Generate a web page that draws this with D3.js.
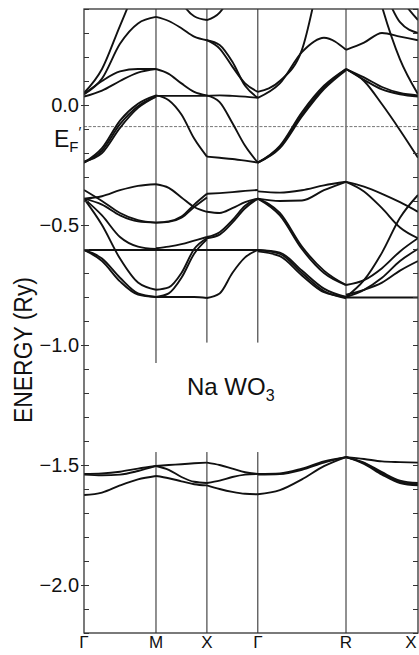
<!DOCTYPE html>
<html><head><meta charset="utf-8">
<script src="https://cdn.jsdelivr.net/npm/d3@7"></script>
<style>
html,body{margin:0;padding:0;background:#fff;}
svg{display:block;}
text{font-family:"Liberation Sans",Arial,sans-serif;fill:#111;}
</style></head><body>
<svg id="chart" width="419" height="655"></svg>
<script>
// ---- data ----
const kLabels = ["Γ","M","X","Γ","R","X"];
const kPoints = [0, 1.414, 2.414, 3.414, 5.146, 6.560];   // path length (π/a)
const yTickValues = [0.0, -0.5, -1.0, -1.5, -2.0];
const yTickLabels = ["0.0", "−0.5", "−1.0", "−1.5", "−2.0"];
const fermiEnergy = -0.09;
const sampleT = [0, 0.25, 0.5, 0.75, 1];

// energies (Ry) at sampleT along each segment
const bandsGM = [
  [-0.24, -0.18, -0.065, 0.005, 0.04],
  [-0.24, -0.19, -0.08, -0.005, 0.035],
  [-0.235, -0.20, -0.095, -0.012, 0.035],
  [0.05, 0.15, 0.33, 0.5, 0.6],
  [0.045, 0.11, 0.255, 0.34, 0.367],
  [0.045, 0.10, 0.14, 0.15, 0.15],
  [0.035, 0.06, 0.10, 0.135, 0.15],
  [-0.39, -0.38, -0.355, -0.337, -0.33],
  [-0.354, -0.40, -0.45, -0.48, -0.49],
  [-0.39, -0.415, -0.46, -0.485, -0.49],
  [-0.39, -0.46, -0.55, -0.59, -0.6],
  [-0.39, -0.50, -0.64, -0.74, -0.77],
  [-0.604, -0.604, -0.604, -0.604, -0.604],
  [-0.604, -0.64, -0.72, -0.785, -0.80],
  [-0.604, -0.65, -0.735, -0.79, -0.80],
  [-1.537, -1.535, -1.528, -1.515, -1.504],
  [-1.54, -1.543, -1.54, -1.525, -1.504],
  [-1.625, -1.615, -1.585, -1.56, -1.546]
];
const bandsMX = [
  [0.038, 0.038, 0.038, 0.038, 0.038],
  [0.04, 0.02, -0.04, -0.14, -0.215],
  [0.15, 0.13, 0.09, 0.055, 0.04],
  [0.367, 0.35, 0.32, 0.285, 0.27],
  [0.7, 0.55, 0.43, 0.37, 0.354],
  [-0.33, -0.345, -0.385, -0.425, -0.445],
  [-0.49, -0.485, -0.465, -0.415, -0.37],
  [-0.49, -0.487, -0.47, -0.425, -0.385],
  [-0.597, -0.59, -0.58, -0.565, -0.55],
  [-0.604, -0.604, -0.604, -0.604, -0.604],
  [-0.77, -0.76, -0.70, -0.60, -0.555],
  [-0.80, -0.785, -0.72, -0.62, -0.56],
  [-0.80, -0.80, -0.80, -0.80, -0.804],
  [-1.504, -1.50, -1.497, -1.493, -1.49],
  [-1.504, -1.52, -1.55, -1.57, -1.575],
  [-1.546, -1.555, -1.568, -1.58, -1.585]
];
const bandsXG = [
  [-0.215, -0.22, -0.225, -0.232, -0.24],
  [0.04, 0.012, -0.075, -0.17, -0.24],
  [0.038, 0.04, 0.038, 0.035, 0.03],
  [0.27, 0.235, 0.16, 0.09, 0.055],
  [0.27, 0.25, 0.18, 0.08, 0.03],
  [0.354, 0.385, 0.47, 0.6, 0.7],
  [-0.37, -0.367, -0.363, -0.358, -0.354],
  [-0.445, -0.45, -0.43, -0.405, -0.39],
  [-0.55, -0.53, -0.48, -0.42, -0.39],
  [-0.555, -0.54, -0.49, -0.43, -0.39],
  [-0.604, -0.604, -0.604, -0.604, -0.604],
  [-0.804, -0.785, -0.70, -0.635, -0.604],
  [-1.49, -1.50, -1.515, -1.53, -1.537],
  [-1.575, -1.565, -1.55, -1.54, -1.537],
  [-1.585, -1.60, -1.612, -1.62, -1.622]
];
const bandsGR = [
  [-0.24, -0.17, -0.03, 0.08, 0.15],
  [-0.24, -0.175, -0.04, 0.073, 0.15],
  [-0.24, -0.18, -0.048, 0.066, 0.145],
  [0.055, 0.10, 0.23, 0.6, 0.8],
  [0.03, 0.09, 0.22, 0.28, 0.23],
  [-0.36, -0.365, -0.355, -0.335, -0.32],
  [-0.39, -0.40, -0.398, -0.355, -0.32],
  [-0.39, -0.45, -0.59, -0.69, -0.75],
  [-0.39, -0.46, -0.60, -0.70, -0.75],
  [-0.604, -0.615, -0.69, -0.765, -0.80],
  [-0.604, -0.62, -0.70, -0.775, -0.805],
  [-0.61, -0.63, -0.71, -0.78, -0.80],
  [-1.537, -1.535, -1.515, -1.485, -1.467],
  [-1.54, -1.538, -1.52, -1.49, -1.467],
  [-1.622, -1.605, -1.56, -1.505, -1.467]
];
const bandsRX = [
  [0.15, 0.115, 0.075, 0.05, 0.04],
  [0.15, 0.105, 0.065, 0.045, 0.035],
  [0.15, 0.10, 0.003, -0.105, -0.22],
  [0.23, 0.26, 0.30, 0.285, 0.27],
  [0.9, 0.7, 0.41, 0.19, 0.045],
  [0.9, 0.7, 0.5, 0.345, 0.30],
  [0.9, 0.8, 0.6, 0.45, 0.354],
  [-0.32, -0.34, -0.37, -0.405, -0.445],
  [-0.32, -0.36, -0.43, -0.51, -0.555],
  [-0.80, -0.73, -0.615, -0.47, -0.375],
  [-0.802, -0.802, -0.802, -0.802, -0.802],
  [-0.75, -0.73, -0.68, -0.61, -0.555],
  [-0.80, -0.77, -0.72, -0.65, -0.60],
  [-0.79, -0.77, -0.74, -0.69, -0.65],
  [-1.467, -1.475, -1.485, -1.488, -1.49],
  [-1.467, -1.49, -1.53, -1.565, -1.575],
  [-1.467, -1.495, -1.54, -1.575, -1.585],
  [-1.467, -1.492, -1.535, -1.57, -1.58]
];
const segments = [bandsGM, bandsMX, bandsXG, bandsGR, bandsRX];

// ---- layout ----
const L = 84, R = 418, T = 9, B = 633;
const x = d3.scaleLinear().domain([kPoints[0], kPoints[kPoints.length - 1]]).range([L, R]);
const y = d3.scaleLinear().domain([-2.2, 0.4]).range([B, T]);
const svg = d3.select("#chart");

svg.append("defs").append("clipPath").attr("id", "clip")
  .append("rect").attr("x", L).attr("y", T).attr("width", R - L).attr("height", B - T);

// symmetry-point vertical lines (with gaps around the label)
const symBreaks = [null, [-1.075, -1.446], [-0.99, -1.446], [-0.99, -1.446], null, null];
kPoints.forEach((k, i) => {
  if (i === 0 || i === kPoints.length - 1) return;
  const br = symBreaks[i];
  const parts = br ? [[0.4, br[0]], [br[1], -2.2]] : [[0.4, -2.2]];
  parts.forEach(p => svg.append("line")
    .attr("x1", x(k)).attr("x2", x(k)).attr("y1", y(p[0])).attr("y2", y(p[1]))
    .attr("stroke", "#222").attr("stroke-width", 1));
});

// Fermi level
svg.append("line").attr("x1", L).attr("x2", R).attr("y1", y(fermiEnergy)).attr("y2", y(fermiEnergy))
  .attr("stroke", "#777").attr("stroke-width", 1).attr("stroke-dasharray", "3,1.5");

// bands
const line = d3.line().x(d => x(d[0])).y(d => y(d[1])).curve(d3.curveMonotoneX);
const gB = svg.append("g").attr("clip-path", "url(#clip)");
segments.forEach((rows, s) => {
  const k0 = kPoints[s], k1 = kPoints[s + 1];
  rows.forEach(row => {
    const pts = row.map((e, j) => [k0 + sampleT[j] * (k1 - k0), e]);
    gB.append("path").attr("d", line(pts)).attr("fill", "none")
      .attr("stroke", "#111").attr("stroke-width", 1.9).attr("stroke-linejoin", "round");
  });
});

// axes
const minor = d3.range(-22, 5).map(i => i / 10);
const noDomain = g => g.select(".domain").remove();
svg.append("g").attr("transform", `translate(${L},0)`)
  .call(d3.axisLeft(y).tickValues(minor).tickSize(-5).tickFormat(""))
  .call(noDomain).selectAll("line").attr("stroke", "#333");
svg.append("g").attr("transform", `translate(${R},0)`)
  .call(d3.axisRight(y).tickValues(minor).tickSize(-5).tickFormat(""))
  .call(noDomain).selectAll("line").attr("stroke", "#333");
const ya = svg.append("g").attr("transform", `translate(${L},0)`)
  .call(d3.axisLeft(y).tickValues(yTickValues).tickSize(3).tickPadding(2).tickFormat((d, i) => yTickLabels[i]))
  .call(noDomain);
ya.selectAll("line").attr("stroke", "#333");
ya.selectAll("text").attr("font-size", 20).attr("font-family", "Liberation Sans, Arial, sans-serif").attr("fill", "#111");

// frame
svg.append("rect").attr("x", L).attr("y", T).attr("width", R - L).attr("height", B - T)
  .attr("fill", "none").attr("stroke", "#333").attr("stroke-width", 1.3);

// k-point labels
svg.append("g").selectAll("text").data(kLabels).join("text")
  .attr("x", (d, i) => Math.min(x(kPoints[i]), 411)).attr("y", 648)
  .attr("text-anchor", "middle").attr("font-size", 17).text(d => d);

// E_F' label
const ef = svg.append("text").attr("x", 54).attr("y", 147).attr("font-size", 23);
ef.append("tspan").text("E");
ef.append("tspan").attr("font-size", 15).attr("dy", 5).text("F");
ef.append("tspan").attr("font-size", 15).attr("dy", -15).text("′");

// compound label
const nl = svg.append("text").attr("x", 187).attr("y", 395).attr("font-size", 24);
nl.append("tspan").text("Na WO");
nl.append("tspan").attr("font-size", 16).attr("dy", 6).text("3");

// y-axis title
svg.append("text").attr("transform", "translate(32,350) rotate(-90)")
  .attr("text-anchor", "middle").attr("font-size", 25)
  .attr("textLength", 146).attr("lengthAdjust", "spacingAndGlyphs")
  .text("ENERGY (Ry)");
</script>
</body></html>
